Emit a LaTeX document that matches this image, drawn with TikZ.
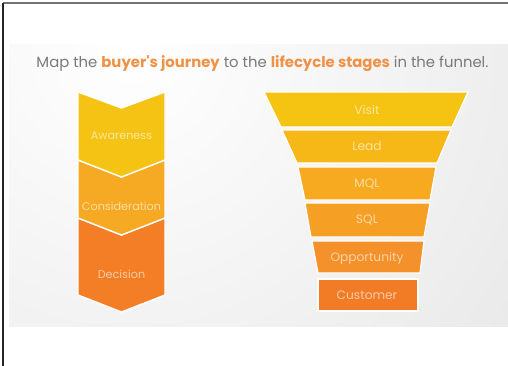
\documentclass[tikz,border=0pt]{standalone}
\usepackage{fontspec}
\setmainfont{Poppins}
\usetikzlibrary{calc}
\definecolor{titlegray}{HTML}{7A7A7A}
\definecolor{titleorange}{HTML}{EE9247}
\definecolor{cyel}{HTML}{F5C314}
\definecolor{corg}{HTML}{F6A922}
\definecolor{cdec}{HTML}{F47E26}
\definecolor{fvisit}{HTML}{F5C312}
\definecolor{flead}{HTML}{F6B816}
\definecolor{fmql}{HTML}{F7A91F}
\definecolor{fsql}{HTML}{F69F25}
\definecolor{fopp}{HTML}{F4912B}
\definecolor{fcust}{HTML}{F27B25}
\tikzset{
  band/.style={draw=white, line width=1.2pt, line join=miter},
  chev/.style={draw=white, line width=1.4pt, line join=miter},
  lbl/.style={text=white, text opacity=0.6, font=\fontsize{11.2}{13}\selectfont, inner sep=0pt},
  flbl/.style={lbl, font=\fontsize{12.2}{14}\selectfont},
}
\begin{document}
\begin{tikzpicture}[x=1pt,y=-1pt]
\useasboundingbox (0,0) rectangle (508,366);
\fill[white] (0,0) rectangle (508,366);
% background panel
\begin{scope}
\clip (9,45) rectangle (508,326);
\shade[inner color=white, outer color=black!16] (130,50) circle (900);
\end{scope}
% frame lines
\draw[draw=black!55, line width=2pt] (3,3) -- (508,3);
\draw[draw=black!85, line width=1.3pt] (3,3) -- (3,366);
% title
\node[inner sep=0pt, text=titlegray, font=\fontsize{14.85}{17}\selectfont] (title) at (262.5,64)
  {Map the \textcolor{titleorange}{\textbf{buyer{\addfontfeatures{Mapping=}\symbol{39}}s journey}} to the \textcolor{titleorange}{\textbf{lifecycle stages}} in the funnel.};
% chevrons
\fill[cdec, chev] (78,218) -- (121.5,235) -- (165,218) -- (165,295) -- (121.5,312) -- (78,295) -- cycle;
\fill[corg, chev] (78,160) -- (121.5,177) -- (165,160) -- (165,218) -- (121.5,235) -- (78,218) -- cycle;
\fill[cyel, chev] (78,92) -- (121.5,108) -- (165,92) -- (165,160) -- (121.5,177) -- (78,160) -- cycle;
\node[lbl] (aw) at (121.5,136) {Awareness};
\node[lbl] (co) at (121.5,206) {Consideration};
\node[lbl] (de) at (121.5,274) {Decision};
% funnel
\fill[fvisit, band] (264,92) -- (468,92) -- (452,127) -- (281,127) -- cycle;
\fill[flead, band] (282,130) -- (451,130) -- (437,163) -- (297,163) -- cycle;
\fill[fmql, band] (298,167) -- (436,167) -- (430,200) -- (305,200) -- cycle;
\fill[fsql, band] (305,203) -- (430,203) -- (424,237) -- (311,237) -- cycle;
\fill[fopp, band] (312,241) -- (424,241) -- (420,273) -- (318,273) -- cycle;
\fill[fcust, band] (318,279) -- (418,279) -- (418,311) -- (318,311) -- cycle;
\node[flbl] (visit) at (367,110) {Visit};
\node[flbl] (lead) at (367,146) {Lead};
\node[flbl] (mql) at (367,184) {MQL};
\node[flbl] (sql) at (367,220) {SQL};
\node[flbl] (opp) at (367,258) {Opportunity};
\node[flbl] (cust) at (367,295) {Customer};
\end{tikzpicture}
\end{document}
